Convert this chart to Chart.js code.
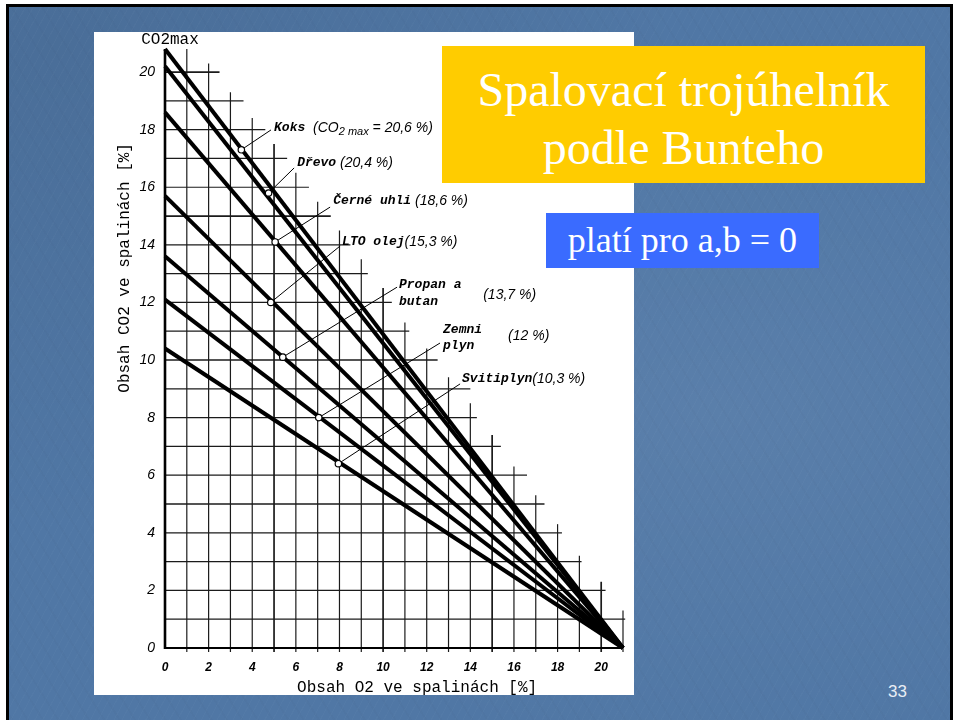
<!DOCTYPE html>
<html>
<head>
<meta charset="utf-8">
<title>Spalovací trojúhelník</title>
<script src="https://cdn.jsdelivr.net/npm/chart.js@4.4.1/dist/chart.umd.min.js"></script>
<style>
  body { margin: 0; background: #fff; width: 955px; height: 720px; overflow: hidden; position: relative; }
  #slide {
    position: absolute; left: 6px; top: 4px; width: 947px; height: 740px;
    box-sizing: border-box; border: 3px solid #000;
    background-color: #5077a5;
    background-image:
      repeating-linear-gradient(118deg, rgba(255,255,255,0.018) 0 1px, rgba(0,0,0,0) 1px 7px),
      repeating-linear-gradient(58deg, rgba(0,0,0,0.015) 0 2px, rgba(0,0,0,0) 2px 13px),
      radial-gradient(ellipse at 75% 55%, rgba(255,255,255,0.06), rgba(255,255,255,0) 60%),
      radial-gradient(ellipse at 5% 5%, rgba(0,0,0,0.08), rgba(0,0,0,0) 50%);
  }
  #panel { position: absolute; left: 94px; top: 32px; width: 540px; height: 663px; background: #fff; }
  #title {
    position: absolute; left: 442px; top: 46px; width: 483px; height: 137px;
    background: #ffcc00; color: #fff; text-align: center;
    font-family: "Liberation Serif", "DejaVu Serif", serif; font-size: 48px; line-height: 58px;
    box-sizing: border-box; padding-top: 15px;
  }
  #note {
    position: absolute; left: 546px; top: 213px; width: 273px; height: 55px;
    background: #3a6bff; color: #fff; text-align: center;
    font-family: "Liberation Serif", "DejaVu Serif", serif; font-size: 36px; line-height: 55px;
  }
  #num { position: absolute; left: 888px; top: 682px; color: #e9eef5; font: 17px "Liberation Sans", Arial, sans-serif; }
</style>
</head>
<body>
<div id="slide"></div>
<div id="panel"><canvas id="chart"></canvas></div>
<div id="title">Spalovací trojúhelník<br>podle Bunteho</div>
<div id="note">platí pro a,b = 0</div>
<div id="num">33</div>

<script>
// fuels; each line runs from its start on the CO2 axis (O2 = 0) down to O2 of air
var fuels = ['Koks', 'Dřevo', 'Černé uhli', 'LTO olej', 'Propan a butan', 'Zemni plyn', 'Svitiplyn'];
var co2max = [20.6, 20.4, 18.6, 15.3, 13.7, 12.0, 10.3];      // as written in the labels
var co2Start = [20.8, 20.2, 18.6, 15.7, 13.6, 12.1, 10.4];    // where the drawn lines start
var o2Air = 21;

// marked points on the lines (where the leaders start)
var markerO2  = [3.5, 4.75, 5.05, 4.85, 5.4, 7.05, 7.95];
var markerCO2 = [17.3, 15.8, 14.1, 12.0, 10.1, 8.0, 6.4];
// leader line ends
var leaderO2  = [4.86, 5.92, 7.57, 8.03, 10.64, 12.61, 13.53];
var leaderCO2 = [17.99, 16.67, 15.31, 13.96, 12.53, 10.59, 9.17];

// axis ticks
var xTicks = [0, 2, 4, 6, 8, 10, 12, 14, 16, 18, 20];
var yTicks = [0, 2, 4, 6, 8, 10, 12, 14, 16, 18, 20];

// stepped grid: how far each grid line reaches
var gridY   = [1, 2, 3, 4, 5, 6, 7, 8, 9, 10, 11, 12, 13, 14, 15, 16, 17, 18, 19, 20];
var hGridTo = [21.1, 20.2, 19.1, 18.2, 17.4, 16.6, 15.4, 14.3, 14.0, 12.5, 11.2, 10.4, 9.3, 8.5, 7.6, 6.6, 5.6, 4.6, 3.6, 2.5];
var gridX   = [1, 2, 3, 4, 5, 6, 7, 8, 9, 10, 11, 12, 13, 14, 15, 16, 17, 18, 19, 20, 21];
var vGridTo = [20.8, 20.3, 19.3, 18.4, 17.5, 16.5, 15.5, 14.5, 13.5, 12.5, 11.3, 10.4, 9.4, 8.5, 7.4, 6.3, 5.3, 4.3, 3.2, 2.3, 1.3];

var mono = '"Liberation Mono", "DejaVu Sans Mono", monospace';
var sans = '"Liberation Sans", Arial, sans-serif';

// label texts next to the leaders: [o2, co2, pieces]
var labels = [
  [5.0, 18.06, [['Koks ', 'm'], ['(CO', 's'], ['2 max', 'sub'], [' = ' + String(co2max[0]).replace('.', ',') + ' %)', 's']]],
  [6.06, 16.84, [['Dřevo', 'm'], [' (20,4 %)', 's']]],
  [7.71, 15.52, [['Černé uhli', 'm'], [' (18,6 %)', 's']]],
  [8.12, 14.1, [['LTO olej', 'm'], ['(15,3 %)', 's']]],
  [10.73, 12.6, [['Propan a', 'm']]],
  [10.73, 12.01, [['butan', 'm']]],
  [14.59, 12.26, [['(13,7 %)', 's']]],
  [12.75, 11.04, [['Zemni', 'm']]],
  [12.75, 10.49, [['plyn', 'm']]],
  [15.73, 10.83, [['(12 %)', 's']]],
  [13.62, 9.34, [['Svitiplyn', 'm'], ['(10,3 %)', 's']]]
];

var fonts = {
  m: 'italic bold 13px ' + mono,
  s: 'italic 14px ' + sans,
  sub: 'italic 11px ' + sans
};

var gridPlugin = {
  id: 'bunteGrid',
  beforeDatasetsDraw: function (chart) {
    var ctx = chart.ctx, xs = chart.scales.x, ys = chart.scales.y;
    ctx.save();
    ctx.strokeStyle = '#1b1b1b';
    for (var i = 0; i < gridY.length; i++) {
      ctx.lineWidth = gridY[i] % 5 === 0 ? 1.7 : 1.2;
      ctx.beginPath();
      ctx.moveTo(xs.getPixelForValue(0), ys.getPixelForValue(gridY[i]));
      ctx.lineTo(xs.getPixelForValue(hGridTo[i]), ys.getPixelForValue(gridY[i]));
      ctx.stroke();
    }
    for (var j = 0; j < gridX.length; j++) {
      ctx.lineWidth = gridX[j] % 5 === 0 ? 1.7 : 1.2;
      ctx.beginPath();
      ctx.moveTo(xs.getPixelForValue(gridX[j]), ys.getPixelForValue(0) + 4);
      ctx.lineTo(xs.getPixelForValue(gridX[j]), ys.getPixelForValue(vGridTo[j]));
      ctx.stroke();
    }
    // axes
    ctx.strokeStyle = '#000';
    ctx.lineWidth = 2.6;
    ctx.beginPath();
    ctx.moveTo(xs.getPixelForValue(0), ys.getPixelForValue(0) + 1);
    ctx.lineTo(xs.getPixelForValue(0), ys.getPixelForValue(20.8));
    ctx.stroke();
    ctx.lineWidth = 2.2;
    ctx.beginPath();
    ctx.moveTo(xs.getPixelForValue(0), ys.getPixelForValue(0));
    ctx.lineTo(xs.getPixelForValue(o2Air), ys.getPixelForValue(0));
    ctx.stroke();
    ctx.restore();
  },
  afterDatasetsDraw: function (chart) {
    var ctx = chart.ctx, xs = chart.scales.x, ys = chart.scales.y;
    ctx.save();
    ctx.fillStyle = '#000';
    ctx.textBaseline = 'middle';
    labels.forEach(function (l) {
      var px = xs.getPixelForValue(l[0]), py = ys.getPixelForValue(l[1]);
      l[2].forEach(function (p) {
        ctx.font = fonts[p[1]];
        var dy = p[1] === 'sub' ? 4 : 0;
        ctx.fillText(p[0], px, py + dy);
        px += ctx.measureText(p[0]).width;
      });
    });
    // axis titles
    ctx.textAlign = 'center';
    ctx.font = '16px ' + mono;
    ctx.fillText('CO2max', xs.getPixelForValue(0) + 5, ys.getPixelForValue(20.8) - 9);
    ctx.fillText('Obsah O2 ve spalinách [%]', xs.getPixelForValue(11.56), ys.getPixelForValue(0) + 40);
    ctx.font = '16px ' + mono;
    ctx.translate(xs.getPixelForValue(0) - 40, ys.getPixelForValue(13.2));
    ctx.rotate(-Math.PI / 2);
    ctx.fillText('Obsah CO2 ve spalinách [%]', 0, 0);
    ctx.restore();
  }
};

var datasets = [];
datasets.push({
  type: 'scatter',
  data: markerO2.map(function (x, i) { return { x: x, y: markerCO2[i] }; }),
  pointRadius: 3.2,
  pointBackgroundColor: '#fff',
  pointBorderColor: '#000',
  pointBorderWidth: 1.2,
  order: 0
});
fuels.forEach(function (f, i) {
  datasets.push({
    label: f + ' leader',
    data: [{ x: markerO2[i], y: markerCO2[i] }, { x: leaderO2[i], y: leaderCO2[i] }],
    borderColor: '#000',
    borderWidth: 1,
    pointRadius: 0,
    order: 1
  });
});
fuels.forEach(function (f, i) {
  datasets.push({
    label: f,
    data: [{ x: 0, y: co2Start[i] }, { x: o2Air, y: 0 }],
    borderColor: '#000',
    borderWidth: 4,
    pointRadius: 0,
    clip: 10,
    order: 2
  });
});

new Chart(document.getElementById('chart').getContext('2d'), {
  type: 'line',
  data: { datasets: datasets },
  plugins: [gridPlugin],
  options: {
    responsive: true,
    maintainAspectRatio: false,
    animation: false,
    layout: { padding: { top: 17, right: 11, left: 0, bottom: 0 } },
    plugins: { legend: { display: false }, tooltip: { enabled: false } },
    scales: {
      x: {
        type: 'linear', min: 0, max: o2Air,
        grid: { display: false }, border: { display: false },
        afterBuildTicks: function (s) { s.ticks = xTicks.map(function (v) { return { value: v }; }); },
        afterFit: function (s) { s.height = 47; },
        ticks: { color: '#000', padding: 4, maxRotation: 0, font: { family: sans, size: 12, style: 'italic', weight: 'bold' } }
      },
      y: {
        type: 'linear', min: 0, max: 20.8,
        grid: { display: false }, border: { display: false },
        afterBuildTicks: function (s) { s.ticks = yTicks.map(function (v) { return { value: v }; }); },
        afterFit: function (s) { s.width = 71; },
        ticks: { color: '#000', padding: 2, font: { family: sans, size: 14, style: 'italic' } }
      }
    }
  }
});
</script>
</body>
</html>
